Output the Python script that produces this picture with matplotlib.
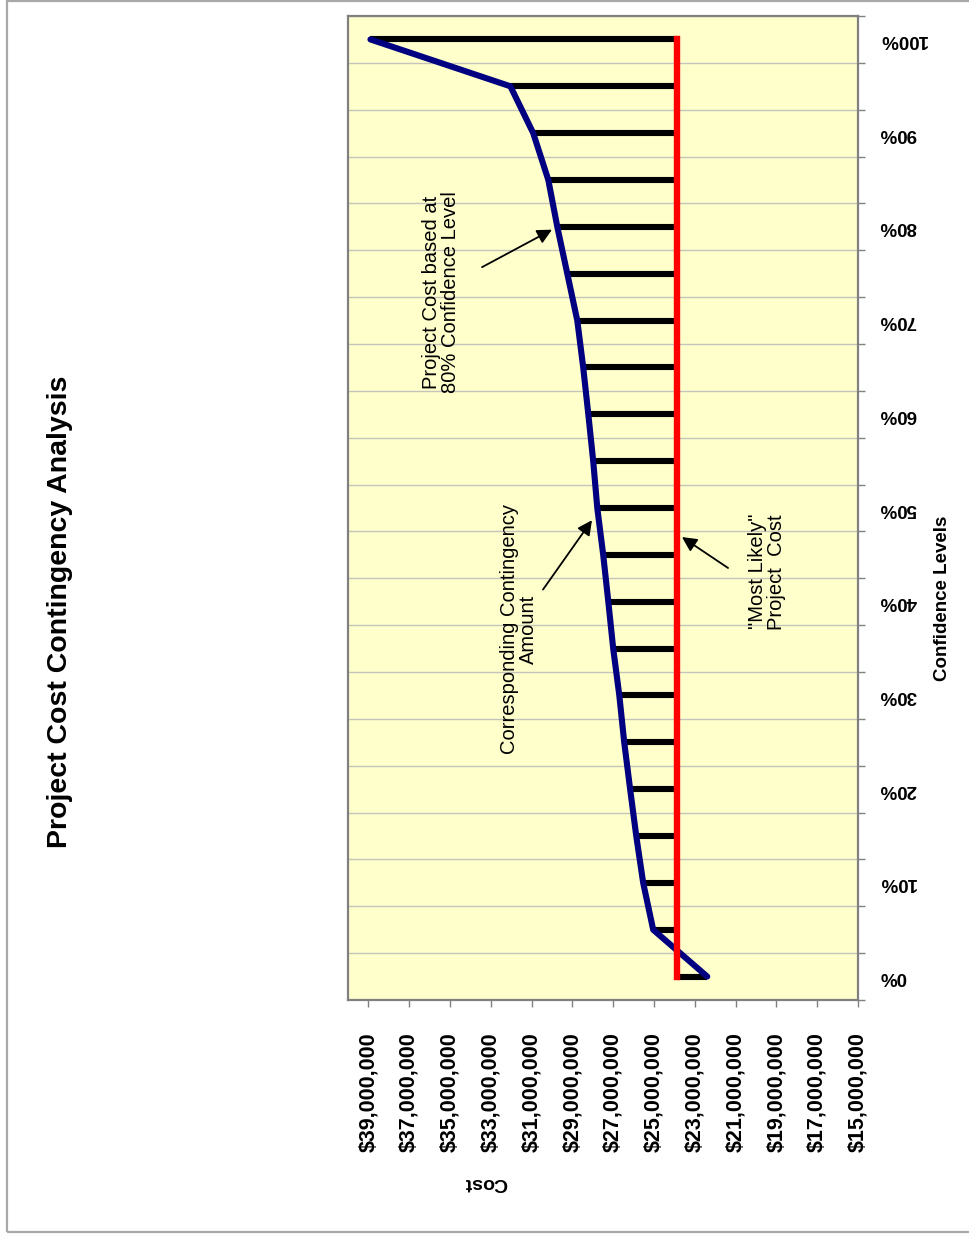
import matplotlib
matplotlib.use("Agg")
import matplotlib.pyplot as plt
from matplotlib.patches import Rectangle
from matplotlib.ticker import FixedLocator, FuncFormatter

plt.rcParams['font.family'] = ['Liberation Sans', 'DejaVu Sans']

# -------------------------------------------------------------
# Data
# -------------------------------------------------------------
confidence = [0, 5, 10, 15, 20, 25, 30, 35, 40, 45, 50,
              55, 60, 65, 70, 75, 80, 85, 90, 95, 100]
project_cost = [22390000, 25040000, 25530000, 25870000, 26170000, 26460000,
                26700000, 27000000, 27240000, 27490000, 27780000, 27980000,
                28220000, 28470000, 28760000, 29250000, 29740000, 30180000,
                30920000, 32040000, 38900000]
most_likely = 23860000

cost_ticks = [15000000, 17000000, 19000000, 21000000, 23000000, 25000000, 27000000,
              29000000, 31000000, 33000000, 35000000, 37000000, 39000000]
level_ticks = [0, 10, 20, 30, 40, 50, 60, 70, 80, 90, 100]
level_labels = ["0%", "10%", "20%", "30%", "40%", "50%",
                "60%", "70%", "80%", "90%", "100%"]

# -------------------------------------------------------------
# Figure (chart laid on its side, page in portrait)
# -------------------------------------------------------------
W, H = 970, 1238
fig = plt.figure(figsize=(W / 100, H / 100), dpi=100)
fig.patch.set_facecolor("white")

# page frame
fig.add_artist(Rectangle((7 / W, 6 / H), 1.0, (1231 / H), transform=fig.transFigure,
                         fill=False, edgecolor="#A8A8A8", lw=1.6))

ax = fig.add_axes([348 / W, (H - 1000) / H, 510 / W, 984 / H])
ax.set_facecolor("#FFFFCC")

# contingency bars between most likely cost and cost at each confidence level
ax.hlines(confidence, most_likely, project_cost, color="black", lw=4.4, zorder=2)
ax.plot(project_cost, confidence, color="#000080", lw=4.4, zorder=3,
        solid_capstyle="round", solid_joinstyle="round")
ax.plot([most_likely, most_likely], [confidence[0], confidence[-1]],
        color="#FF0000", lw=4.6, zorder=4)

# -------------------------------------------------------------
# Axes
# -------------------------------------------------------------
ax.set_xlim(40000000, 15000000)
ax.set_ylim(-2.5, 102.5)

ax.xaxis.set_major_locator(FixedLocator(cost_ticks))
ax.xaxis.set_major_formatter(FuncFormatter(lambda v, p: f"${v:,.0f}"))
ax.tick_params(axis="x", direction="out", length=5, width=1, color="#808080",
               pad=18, labelsize=15.5)
for lbl in ax.get_xticklabels():
    lbl.set_rotation(90)
    lbl.set_fontweight("bold")

ax.yaxis.tick_right()
ax.yaxis.set_major_locator(FixedLocator(level_ticks))
ax.set_yticklabels(level_labels, rotation=180, fontweight="bold", fontsize=13.5,
                   ha="left", va="center")
ax.yaxis.set_minor_locator(FixedLocator([-2.5 + 5 * k for k in range(22)]))
ax.tick_params(axis="y", which="major", length=0, pad=15)
ax.tick_params(axis="y", which="minor", direction="out", length=5, width=1,
               color="#808080")
ax.grid(True, axis="y", which="minor", color="#C4C4BC", lw=1.0, zorder=1)

for s in ax.spines.values():
    s.set_color("#808080")
    s.set_linewidth(1.6)

# -------------------------------------------------------------
# Titles and notes
# -------------------------------------------------------------
fig.text(60 / W, 1 - 612 / H, "Project Cost Contingency Analysis", rotation=90,
         ha="center", va="center", fontsize=20.5, fontweight="bold")
fig.text(943 / W, 1 - 598 / H, "Confidence Levels", rotation=90,
         ha="center", va="center", fontsize=13.5, fontweight="bold")
fig.text(486 / W, 1 - 1182 / H, "Cost", rotation=180,
         ha="center", va="center", fontsize=14, fontweight="bold")

arrow = dict(arrowstyle="-|>", color="black", lw=1.3, mutation_scale=22,
             shrinkA=0, shrinkB=0)
ax.annotate("", xy=(30000000, 79.7), xytext=(33430000, 75.7), arrowprops=arrow, zorder=5)
ax.annotate("", xy=(28040000, 48.7), xytext=(30440000, 41.3), arrowprops=arrow, zorder=5)
ax.annotate("", xy=(23630000, 46.9), xytext=(21370000, 43.6), arrowprops=arrow, zorder=5)

ax.text(35420000, 73.0, "Project Cost based at\n80% Confidence Level", rotation=90,
        ha="center", va="center", multialignment="center", fontsize=14.5,
        linespacing=1.0, zorder=5)
ax.text(31620000, 37.1, "Corresponding Contingency\nAmount", rotation=90,
        ha="center", va="center", multialignment="center", fontsize=14.5,
        linespacing=1.0, zorder=5)
ax.text(19460000, 43.2, "\"Most Likely\"\nProject  Cost", rotation=90,
        ha="center", va="center", multialignment="center", fontsize=14.5,
        linespacing=1.0, zorder=5)

fig.savefig("out.png", dpi=100)
